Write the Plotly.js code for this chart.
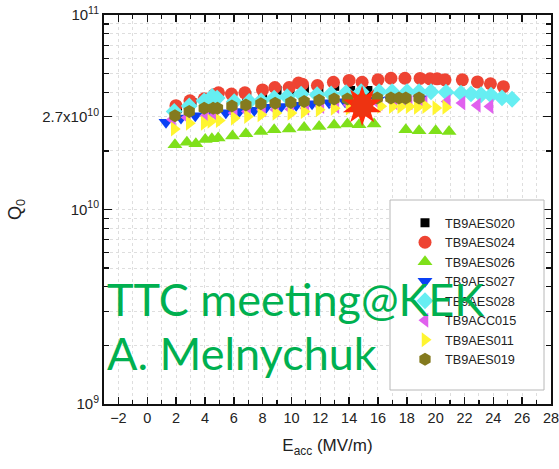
<!DOCTYPE html>
<html>
<head>
<meta charset="utf-8">
<script src="https://cdn.plot.ly/plotly-3.0.1.min.js"></script>
<style>
html,body{margin:0;padding:0;background:#fff;}
#chart{width:559px;height:469px;}
</style>
</head>
<body>
<div id="chart"></div>
<script>
// ---- data (Eacc in MV/m, Q0) ----
const seriesNames = ['TB9AES020','TB9AES024','TB9AES026','TB9AES027','TB9AES028','TB9ACC015','TB9AES011','TB9AES019'];

const e020 = [2.1, 3.1, 4.0, 4.9, 5.9, 6.9, 8.0, 9.0, 9.9, 10.9, 11.9, 13.0, 14.1, 15.3];
const q020 = [3.3e10, 3.55e10, 3.65e10, 3.85e10, 3.8e10, 3.85e10, 3.95e10, 4.1e10, 4.05e10, 4.2e10, 4.15e10, 4.3e10, 4.09e10, 4.09e10];

const e024 = [1.99, 2.96, 3.95, 4.64, 4.94, 5.84, 6.77, 7.99, 8.85, 9.84, 10.49, 10.76, 11.8, 12.91, 14.0, 14.9, 16.0, 16.9, 17.87, 18.92, 19.61, 20.1, 20.65, 21.85, 22.9, 23.8, 24.7];
const q024 = [3.42e10, 3.62e10, 3.71e10, 3.89e10, 3.98e10, 3.92e10, 3.98e10, 4.12e10, 4.24e10, 4.24e10, 4.47e10, 4.41e10, 4.34e10, 4.51e10, 4.61e10, 4.51e10, 4.64e10, 4.73e10, 4.73e10, 4.72e10, 4.70e10, 4.70e10, 4.64e10, 4.64e10, 4.53e10, 4.43e10, 4.28e10];

const e026 = [1.92, 2.75, 3.37, 4.02, 4.48, 4.92, 5.91, 6.84, 7.88, 8.8, 9.84, 10.88, 11.92, 12.96, 13.88, 14.69, 15.73, 17.93, 18.85, 20.0, 20.93];
const q026 = [2.15e10, 2.22e10, 2.18e10, 2.29e10, 2.31e10, 2.33e10, 2.39e10, 2.45e10, 2.52e10, 2.57e10, 2.59e10, 2.64e10, 2.67e10, 2.72e10, 2.75e10, 2.73e10, 2.75e10, 2.57e10, 2.54e10, 2.54e10, 2.52e10];

const e027 = [1.30, 2.34, 3.33, 4.37, 5.45, 6.38, 7.42, 8.25, 9.29, 10.33, 11.43, 12.61, 13.72, 14.83, 15.94, 16.91, 17.88, 18.92];
const q027 = [2.81e10, 2.95e10, 3.03e10, 3.10e10, 3.14e10, 3.19e10, 3.24e10, 3.36e10, 3.39e10, 3.44e10, 3.50e10, 3.54e10, 3.58e10, 3.63e10, 3.65e10, 3.67e10, 3.67e10, 3.71e10];

const e028 = [1.87, 2.91, 3.95, 4.5, 4.85, 6.03, 7.07, 7.9, 8.8, 9.7, 10.67, 11.78, 12.75, 13.79, 14.83, 16.08, 16.98, 18.02, 18.85, 19.68, 20.72, 21.76, 22.45, 23.15, 23.84, 24.6, 25.3];
const q028 = [3.19e10, 3.41e10, 3.62e10, 3.81e10, 3.74e10, 3.58e10, 3.59e10, 3.62e10, 3.74e10, 3.80e10, 3.92e10, 3.89e10, 3.93e10, 3.98e10, 4.03e10, 4.03e10, 4.03e10, 4.03e10, 4.03e10, 4.03e10, 4.01e10, 3.96e10, 3.93e10, 3.89e10, 3.87e10, 3.75e10, 3.69e10];

const eACC015 = [1.75, 2.77, 4.07, 4.71, 6.03, 6.95, 7.99, 8.92, 9.96, 11.0, 12.04, 13.08, 14.0, 15.04, 16.08, 17.12, 18.16, 19.2, 20.81, 21.83, 22.89, 23.77];
const qACC015 = [2.90e10, 2.97e10, 3.03e10, 3.07e10, 3.13e10, 3.19e10, 3.26e10, 3.26e10, 3.28e10, 3.32e10, 3.39e10, 3.39e10, 3.45e10, 3.50e10, 3.50e10, 3.54e10, 3.54e10, 3.54e10, 3.59e10, 3.53e10, 3.44e10, 3.39e10];

const e011 = [1.87, 2.91, 3.95, 4.41, 4.99, 6.03, 6.95, 7.88, 8.92, 9.96, 10.88, 11.92, 12.96, 14.0, 15.04, 16.19, 16.99, 17.58, 18.16, 18.73, 19.31, 20.01, 20.7];
const q011 = [2.59e10, 2.78e10, 2.78e10, 2.84e10, 2.87e10, 2.95e10, 3.01e10, 3.07e10, 3.13e10, 3.13e10, 3.19e10, 3.26e10, 3.32e10, 3.33e10, 3.36e10, 3.40e10, 3.39e10, 3.39e10, 3.39e10, 3.36e10, 3.39e10, 3.33e10, 3.36e10];

const e019 = [1.92, 2.91, 3.95, 4.57, 4.87, 5.87, 6.84, 7.88, 8.87, 9.96, 10.88, 11.92, 12.96, 13.88, 14.9, 15.95, 16.9, 17.46, 17.93, 18.85];
const q019 = [3.03e10, 3.19e10, 3.32e10, 3.32e10, 3.32e10, 3.41e10, 3.45e10, 3.50e10, 3.52e10, 3.55e10, 3.59e10, 3.65e10, 3.70e10, 3.70e10, 3.71e10, 3.74e10, 3.74e10, 3.74e10, 3.74e10, 3.74e10];

const starE = [14.9];
const starQ = [3.41e10];

const xTickVals = [-2, 0, 2, 4, 6, 8, 10, 12, 14, 16, 18, 20, 22, 24, 26, 28];
const yTickVals = [1e9, 1e10, 3e10, 1e11];
const yTickText = ['10<sup>9</sup>', '10<sup>10</sup>', '2.7x10<sup>10</sup>', '10<sup>11</sup>'];
const yMinorVals = [2e9, 3e9, 4e9, 5e9, 6e9, 7e9, 8e9, 9e9, 2e10, 3e10, 4e10, 5e10, 6e10, 7e10, 8e10, 9e10];

// ---- styles ----
const xs = [e020, e024, e026, e027, e028, eACC015, e011, e019];
const ys = [q020, q024, q026, q027, q028, qACC015, q011, q019];
const symbols = ['square', 'circle', 'triangle-up', 'triangle-down', 'diamond', 'triangle-left', 'triangle-right', 'hexagon'];
const colors = ['#000000', '#EE4433', '#7FE01A', '#0A40F5', '#66EEF2', '#E060EE', '#FFF530', '#847A1E'];
const sizes = [9, 13, 13, 13, 13, 13, 13, 13];

const traces = seriesNames.map((n, i) => ({
  type: 'scatter', mode: 'markers', name: n,
  x: xs[i], y: ys[i],
  marker: {symbol: symbols[i], color: colors[i], size: sizes[i], line: {width: 0}}
}));

// red sun marker
traces.push({type:'scatter', mode:'markers', x: starE, y: starQ, showlegend:false,
  marker:{symbol:'star', size:29, color:'#FF2A0A', line:{width:0}}});
traces.push({type:'scatter', mode:'markers', x: starE, y: starQ, showlegend:false,
  marker:{symbol:'star', size:29, angle:36, color:'#FF2A0A', line:{width:0}}});
traces.push({type:'scatter', mode:'markers', x: starE, y: starQ, showlegend:false,
  marker:{symbol:'circle', size:22, color:'#EE3311', line:{width:0}}});

const W = 559, H = 469, L = 104, R = 8, T = 15, B = 65;
const pw = W - L - R, ph = H - T - B;
const px = v => (v - L) / pw;
const py = v => (H - B - v) / ph;

const gridCol = '#dedede';
const layout = {
  width: W, height: H,
  margin: {l: L, r: R, t: T, b: B},
  paper_bgcolor: '#fff', plot_bgcolor: '#fff',
  font: {family: 'Liberation Sans, Arial, sans-serif', color: '#222'},
  showlegend: true,
  xaxis: {
    range: [-3, 28], tickvals: xTickVals, ticks: 'inside', ticklen: 7, tickwidth: 1.5, tickcolor: '#111',
    showline: true, linewidth: 2, linecolor: '#111', mirror: 'allticks', zeroline: false,
    showgrid: true, gridcolor: gridCol, griddash: '3px,3px', gridwidth: 1,
    tickfont: {size: 14.5, color: '#222'}, ticklabeloverflow: 'allow',
    minor: {dtick: 1, tick0: -3, ticks: 'inside', ticklen: 4, tickwidth: 1.2, tickcolor: '#111', showgrid: true, gridcolor: gridCol, griddash: '3px,3px'},
    title: {text: 'E<sub>acc</sub> (MV/m)', font: {size: 17, color: '#222'}, standoff: 14}
  },
  yaxis: {
    type: 'log', range: [9, 11], tickvals: yTickVals, ticktext: yTickText,
    ticks: 'inside', ticklen: 8, tickwidth: 1.5, tickcolor: '#111',
    showline: true, linewidth: 2, linecolor: '#111', mirror: 'allticks', zeroline: false,
    showgrid: true, gridcolor: gridCol, griddash: '3px,3px', gridwidth: 1,
    tickfont: {size: 15, color: '#222'},
    minor: {tickvals: yMinorVals, ticks: 'inside', ticklen: 5, tickwidth: 1.2, tickcolor: '#111', showgrid: true, gridcolor: gridCol, griddash: '3px,3px'},
    title: {text: 'Q<sub>0</sub>', font: {size: 18, color: '#222'}, standoff: 16}
  },
  legend: {
    x: px(405), y: py(208), xanchor: 'left', yanchor: 'top',
    bgcolor: 'rgba(0,0,0,0)', borderwidth: 0,
    font: {size: 12.7, color: '#222'}, tracegroupgap: 0, itemsizing: 'trace'
  },
  shapes: [{
    type: 'rect', xref: 'paper', yref: 'paper', layer: 'above',
    x0: px(390), x1: px(544), y0: py(390), y1: py(200),
    fillcolor: '#ffffff', line: {color: '#b8b8b8', width: 1}
  }],
  annotations: [
    {xref: 'paper', yref: 'paper', x: px(105), y: py(299), xanchor: 'left', yanchor: 'middle',
     text: 'TTC meeting@KEK', showarrow: false, font: {family: 'Lato, Open Sans, sans-serif', size: 45, color: '#00B050'}},
    {xref: 'paper', yref: 'paper', x: px(105), y: py(353), xanchor: 'left', yanchor: 'middle',
     text: 'A. Melnychuk', showarrow: false, font: {family: 'Lato, Open Sans, sans-serif', size: 45, color: '#00B050'}}
  ]
};

Plotly.newPlot('chart', traces, layout, {displayModeBar: false, staticPlot: true});
</script>
</body>
</html>
